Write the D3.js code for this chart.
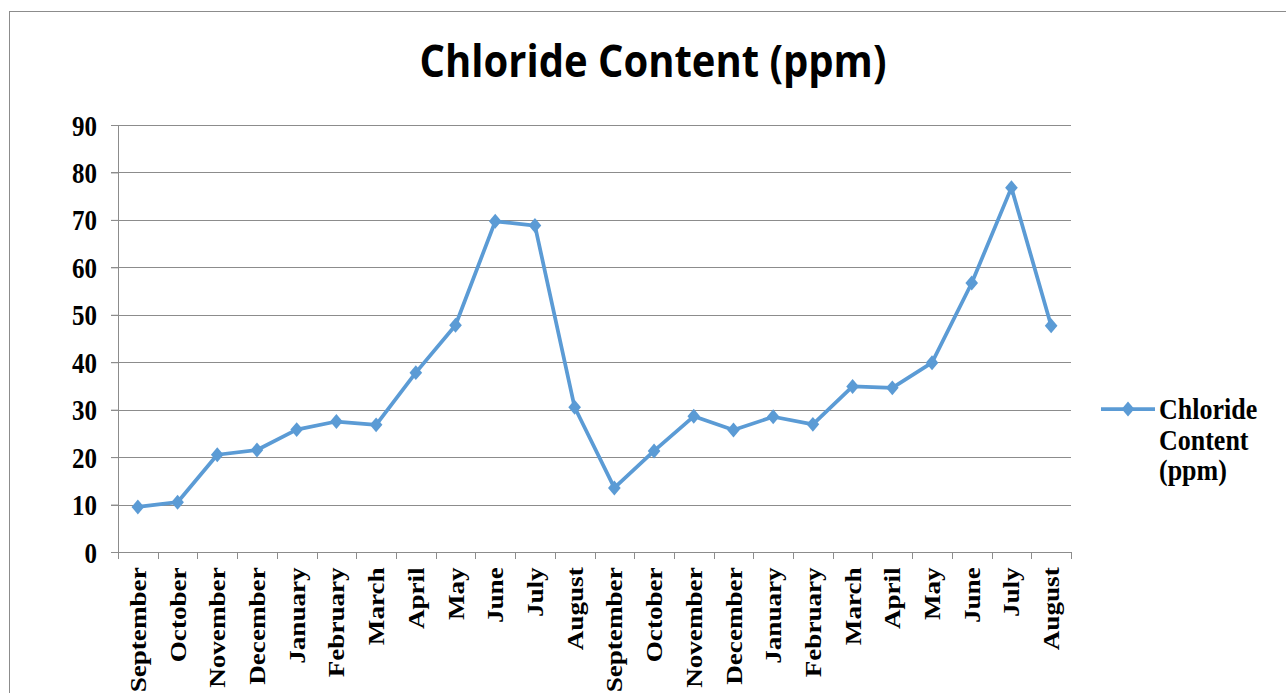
<!DOCTYPE html>
<html>
<head>
<meta charset="utf-8">
<script src="https://cdn.jsdelivr.net/npm/d3@7"></script>
<style>
  body { margin: 0; background: #fff; }
  svg { display: block; }
</style>
</head>
<body>
<svg id="chart"></svg>
<script>
// chart data
const months = ['September', 'October', 'November', 'December', 'January', 'February', 'March',
    'April', 'May', 'June', 'July', 'August',
    'September', 'October', 'November', 'December', 'January', 'February', 'March',
    'April', 'May', 'June', 'July', 'August'];
const chloride = [9.5, 10.5, 20.5, 21.5, 25.8, 27.5, 26.8, 37.8, 47.8, 69.7, 68.8, 30.5,
    13.5, 21.3, 28.6, 25.7, 28.5, 26.9, 34.9, 34.6, 39.9, 56.7, 76.8, 47.7];
const yTicks = [0, 10, 20, 30, 40, 50, 60, 70, 80, 90];
const seriesName = ['Chloride', 'Content', '(ppm)'];

const W = 1286, H = 693;
const margin = {top: 125, right: 215, bottom: 141, left: 118};
const width = W - margin.left - margin.right;
const height = H - margin.top - margin.bottom;
const blue = '#5B9BD5';
const serif = '"Liberation Serif", "Times New Roman", serif';
const stretch = 1.18; // the source picture is a bit taller than wide

const svg = d3.select('#chart').attr('width', W).attr('height', H);

// outer chart border
svg.append('rect')
    .attr('x', 9.5).attr('y', 11.5)
    .attr('width', W + 10).attr('height', H + 10)
    .attr('fill', 'none').attr('stroke', '#8c8c8c').attr('stroke-width', 1);

svg.append('g')
    .attr('transform', `translate(653,77) scale(1,1.1)`)
    .append('text')
    .attr('text-anchor', 'middle')
    .style('font-family', '"Open Sans", "Noto Sans", sans-serif')
    .style('font-weight', 'bold')
    .style('font-size', '40px')
    .text('Chloride Content (ppm)');

const g = svg.append('g').attr('transform', `translate(${margin.left},${margin.top})`);

const x = d3.scaleBand().domain(d3.range(months.length)).range([0, width]);
const y = d3.scaleLinear().domain([0, 90]).range([height, 0]);

// gridlines
g.append('g')
    .selectAll('line')
    .data(yTicks.slice(1))
    .join('line')
    .attr('x1', -7).attr('x2', width)
    .attr('y1', d => Math.round(y(d)) + 0.5).attr('y2', d => Math.round(y(d)) + 0.5)
    .attr('stroke', '#8c8c8c');

// y axis
const yAxis = g.append('g')
    .call(d3.axisLeft(y).tickValues(yTicks).tickSize(7).tickSizeOuter(0));
yAxis.select('.domain').attr('stroke', '#8c8c8c');
yAxis.selectAll('.tick line').attr('stroke', '#8c8c8c');
yAxis.selectAll('.tick text')
    .attr('x', -21).attr('dy', '0.34em')
    .attr('transform', `scale(1,${stretch})`)
    .style('font-family', serif).style('font-weight', 'bold').style('font-size', '25px')
    .attr('fill', '#000');

// x axis
const xAxis = g.append('g')
    .attr('transform', `translate(0,${height})`)
    .call(d3.axisBottom(x).tickSize(0).tickFormat(i => months[i]));
xAxis.select('.domain').attr('stroke', '#8c8c8c').attr('d', `M0.5,0.5H${width}`);
xAxis.selectAll('.tick text')
    .attr('transform', `scale(1,${stretch}) rotate(-90)`)
    .attr('x', -13).attr('y', 0).attr('dy', '0.35em')
    .attr('text-anchor', 'end')
    .style('font-family', serif).style('font-weight', 'bold').style('font-size', '23px')
    .attr('fill', '#000');
// category boundary ticks
xAxis.append('g')
    .selectAll('line')
    .data(d3.range(months.length + 1))
    .join('line')
    .attr('x1', d => Math.round(d * x.step()) + 0.5).attr('x2', d => Math.round(d * x.step()) + 0.5)
    .attr('y1', 0).attr('y2', 7)
    .attr('stroke', '#8c8c8c');

// series line
const cx = i => x(i) + x.bandwidth() / 2;
g.append('path')
    .datum(chloride)
    .attr('fill', 'none')
    .attr('stroke', blue)
    .attr('stroke-width', 3.75)
    .attr('stroke-linejoin', 'round')
    .attr('d', d3.line().x((d, i) => cx(i)).y(d => y(d)));

const marker = d3.symbol().type(d3.symbolSquare).size(80);
g.append('g')
    .selectAll('path')
    .data(chloride)
    .join('path')
    .attr('transform', (d, i) => `translate(${cx(i)},${y(d)}) scale(1,${stretch}) rotate(45)`)
    .attr('d', marker)
    .attr('fill', blue);

// legend
const lg = svg.append('g').attr('transform', 'translate(1101,409)');
lg.append('line').attr('x1', 0).attr('x2', 54).attr('y1', 0).attr('y2', 0)
    .attr('stroke', blue).attr('stroke-width', 3.75);
lg.append('path').attr('transform', `translate(27,0) scale(1,${stretch}) rotate(45)`)
    .attr('d', marker).attr('fill', blue);
lg.append('text')
    .attr('transform', 'translate(58,0) scale(1,1.12)')
    .style('font-family', serif).style('font-weight', 'bold').style('font-size', '26px')
    .selectAll('tspan')
    .data(seriesName)
    .join('tspan')
    .attr('x', 0)
    .attr('y', (d, i) => i * 27.3)
    .attr('dy', '0.35em')
    .text(d => d);
</script>
</body>
</html>
